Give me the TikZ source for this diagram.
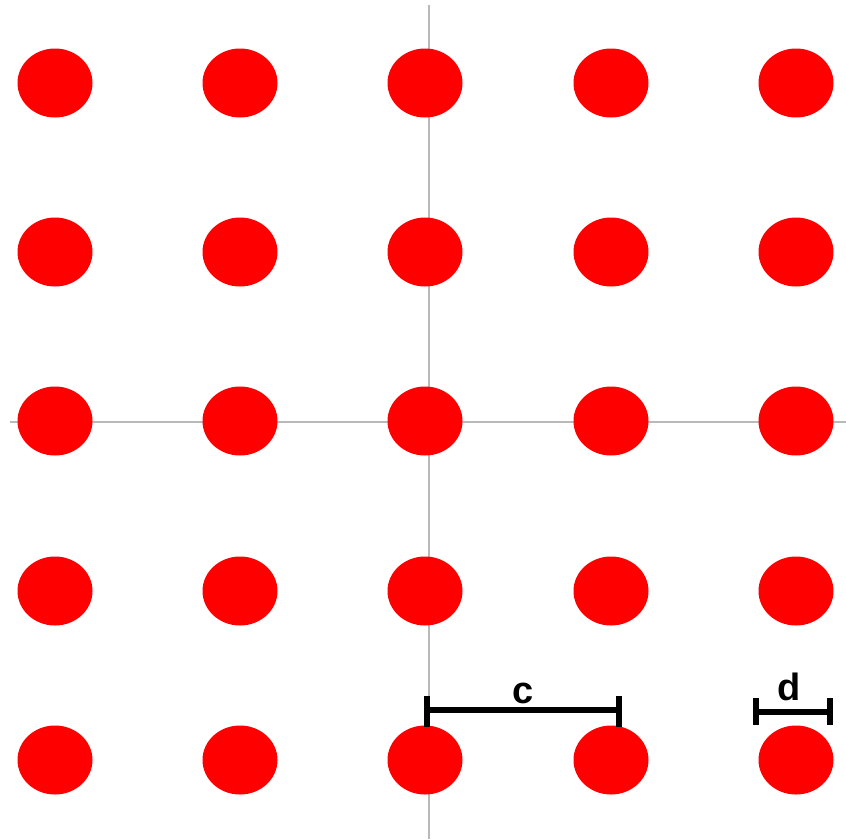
\documentclass[tikz,border=0pt]{standalone}
\usepackage{fontspec}
\setmainfont{Liberation Sans}
\usetikzlibrary{shapes.geometric}
\definecolor{axisgray}{RGB}{185,185,185}
\definecolor{dotred}{RGB}{255,0,0}
\begin{document}
\begin{tikzpicture}[x=1pt,y=-1pt,
  dot/.style={ellipse,fill=dotred,draw=none,minimum width=75pt,minimum height=69pt,inner sep=0pt},
  axis/.style={draw=axisgray,line width=2pt},
  bar/.style={draw=black,line width=5.5pt},
  lbl/.style={font=\fontsize{38}{40}\selectfont\bfseries,text=black,inner sep=0pt,anchor=base}]
\useasboundingbox (0,0) rectangle (846,839);
% axes
\coordinate (vt) at (429,5);
\coordinate (vb) at (429,839);
\coordinate (hl) at (10,422);
\coordinate (hr) at (846,422);
\draw[axis] (vt) -- (vb);
\draw[axis] (hl) -- (hr);
% dots
\foreach \i/\x in {1/55,2/240,3/425,4/611,5/796}{
  \foreach \j/\y in {1/83,2/252,3/421,4/591,5/760}{
    \node[dot] (p\i\j) at (\x,\y) {};
  }
}
% c bar
\coordinate (c1) at (427,710);
\coordinate (c2) at (619,710);
\coordinate (c1t) at (427,696);
\coordinate (c1b) at (427,727);
\coordinate (c2t) at (619,696);
\coordinate (c2b) at (619,727);
\draw[bar] (c1) -- (c2);
\draw[bar] (c1t) -- (c1b);
\draw[bar] (c2t) -- (c2b);
\node[lbl] (lc) at (523,703) {c};
% d bar
\coordinate (d1) at (756,712);
\coordinate (d2) at (830,712);
\coordinate (d1t) at (756,698);
\coordinate (d1b) at (756,725);
\coordinate (d2t) at (830,698);
\coordinate (d2b) at (830,725);
\draw[bar] (d1) -- (d2);
\draw[bar] (d1t) -- (d1b);
\draw[bar] (d2t) -- (d2b);
\node[lbl] (ld) at (789,700) {d};
\end{tikzpicture}
\end{document}
